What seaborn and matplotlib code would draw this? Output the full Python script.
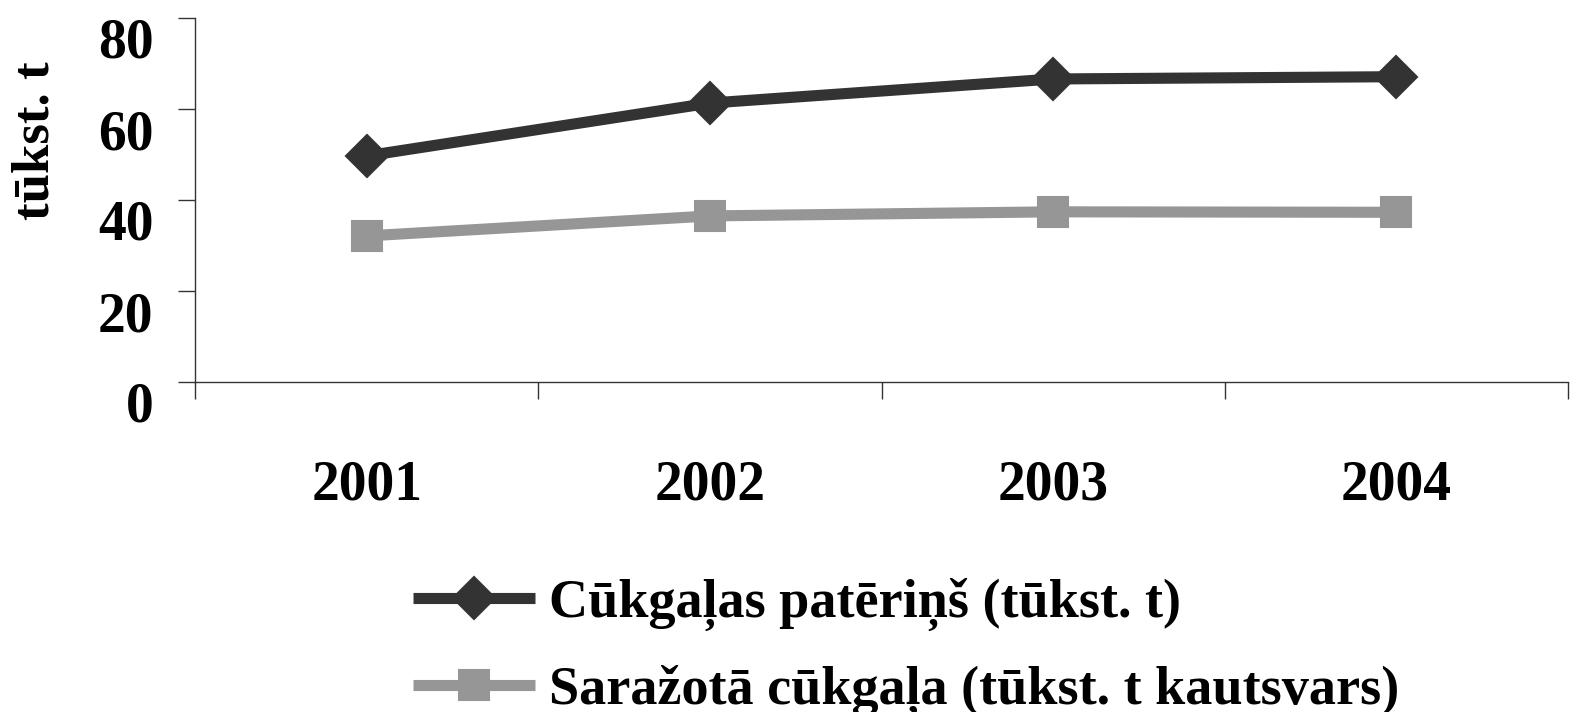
import matplotlib
matplotlib.use("Agg")
import matplotlib.pyplot as plt
import seaborn as sns
import pandas as pd

years = [2001, 2002, 2003, 2004]
consumption = [49.7, 61.3, 66.6, 67.1]
production = [32.1, 36.5, 37.4, 37.3]
series_names = ["Cūkgaļas patēriņš (tūkst. t)", "Saražotā cūkgaļa (tūkst. t kautsvars)"]
y_ticks = [0, 20, 40, 60, 80]
y_label = "tūkst. t"

df = pd.DataFrame({
    "year": years * 2,
    "value": consumption + production,
    "series": [series_names[0]] * len(years) + [series_names[1]] * len(years),
})

sns.set_theme(style="white")
plt.rcParams["font.family"] = ["Liberation Serif", "DejaVu Serif"]
plt.rcParams["font.weight"] = "bold"
plt.rcParams["text.color"] = "black"
plt.rcParams["xtick.color"] = "black"
plt.rcParams["ytick.color"] = "black"
plt.rcParams["axes.labelcolor"] = "black"

fig = plt.figure(figsize=(15.72, 7.12), dpi=100)
ax = fig.add_axes([195 / 1572, 1 - 382 / 712, (1568 - 195) / 1572, (382 - 18) / 712])

sns.lineplot(
    data=df, x="year", y="value", hue="series", style="series",
    palette={series_names[0]: "#333333", series_names[1]: "#969696"},
    markers={series_names[0]: "D", series_names[1]: "s"},
    dashes=False, linewidth=8, markersize=21, markeredgewidth=1.5,
    ax=ax, legend=False,
)
for ln in ax.lines:
    ln.set_solid_joinstyle("round")
    ln.set_solid_capstyle("butt")
    ln.set_markeredgecolor(ln.get_color())
    if ln.get_marker() == "s":
        ln.set_markersize(22)

ax.set_xlim(years[0] - 0.5, years[-1] + 0.5)
ax.set_ylim(y_ticks[0], y_ticks[-1])
ax.set_yticks(y_ticks)
ax.set_yticklabels([str(v) for v in y_ticks], fontsize=40, fontweight="bold", color="black")
for lab in ax.get_yticklabels():
    lab.set_va("top")

ax.set_xticks(years)
ax.set_xticklabels([str(y) for y in years], fontsize=40, fontweight="bold", color="black")
ax.set_xticks([y + 0.5 for y in [years[0] - 1] + years], minor=True)
ax.tick_params(axis="x", which="major", length=0, pad=56)
ax.tick_params(axis="x", which="minor", length=12, width=1, color="#333333", direction="out", bottom=True)
ax.tick_params(axis="y", which="major", length=12, width=1, color="#333333", direction="out", left=True, pad=18)

ax.set_xlabel("")
ax.set_ylabel(y_label, fontsize=38, fontweight="bold", color="black")
ax.yaxis.set_label_coords(-0.099, 0.662)

for side in ["top", "right"]:
    ax.spines[side].set_visible(False)
for side in ["left", "bottom"]:
    ax.spines[side].set_color("#333333")
    ax.spines[side].set_linewidth(1)

leg = fig.legend(
    handles=ax.lines[:2], labels=series_names,
    loc="upper left", bbox_to_anchor=(413 / 1572, 1 - 578 / 712),
    bbox_transform=fig.transFigure, frameon=False,
    prop={"family": "Liberation Serif", "weight": "bold", "size": 39},
    handlelength=2.25, handletextpad=0.26, labelspacing=0.63,
    borderpad=0, borderaxespad=0, numpoints=1,
)
for t in leg.get_texts():
    t.set_color("black")

fig.savefig("out.png", dpi=100)
